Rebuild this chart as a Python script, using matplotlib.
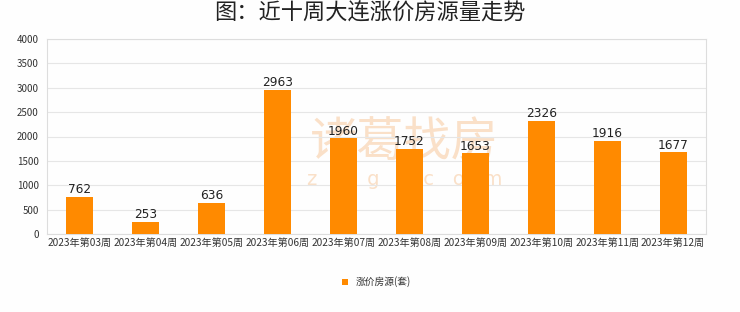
import matplotlib
matplotlib.use('Agg')
import matplotlib.pyplot as plt
import numpy as np

plt.rcParams['font.family'] = ['Noto Sans CJK SC', 'DejaVu Sans']

weeks = ['2023年第03周', '2023年第04周', '2023年第05周', '2023年第06周', '2023年第07周',
         '2023年第08周', '2023年第09周', '2023年第10周', '2023年第11周', '2023年第12周']
counts = [762, 253, 636, 2963, 1960, 1752, 1653, 2326, 1916, 1677]
yticks = [0, 500, 1000, 1500, 2000, 2500, 3000, 3500, 4000]

BAR_COLOR = '#ff8a00'
GRID_COLOR = '#e6e6e6'
WM_COLOR = '#fae0c8'

fig = plt.figure(figsize=(7.4, 3.12), dpi=100)
fig.patch.set_facecolor('#fefefe')
ax = fig.add_axes([47 / 740, 1 - 234 / 312, 659 / 740, 195 / 312])
ax.set_facecolor('#fefefe')

# watermark, behind the bars
ax.text(0.543, 0.47, '诸葛找房', transform=ax.transAxes, fontsize=34, color=WM_COLOR,
        ha='center', va='center', zorder=1, fontweight='light')
ax.text(0.543, 0.28, 'z   u   g   .   c   o   m', transform=ax.transAxes, fontsize=14,
        color=WM_COLOR, ha='center', va='center', zorder=1, family='DejaVu Sans')

x = np.arange(len(weeks))
ax.bar(x, counts, width=0.41, color=BAR_COLOR, zorder=3, label='涨价房源(套)')
for xi, v in zip(x, counts):
    ax.text(xi, v + 15, str(v), ha='center', va='bottom', fontsize=8.7,
            color='#222222', family='DejaVu Sans', zorder=4)

ax.set_xlim(-0.5, len(weeks) - 0.5)
ax.set_ylim(0, 4000)
ax.set_yticks(yticks)
ax.set_xticks(x)
ax.set_xticklabels(weeks, fontsize=7.3, color='#333333')
ax.tick_params(axis='y', labelsize=7, colors='#333333', length=0, pad=6)
ax.tick_params(axis='x', length=0, pad=3)
ax.grid(axis='y', color=GRID_COLOR, linewidth=0.8, zorder=0)
for s in ax.spines.values():
    s.set_color('#dddddd')
    s.set_linewidth(0.8)

fig.suptitle('图：近十周大连涨价房源量走势', x=0.5, y=0.995, fontsize=16,
             color='#222222', va='top')

ax.legend(loc='center', bbox_to_anchor=(0.5, 1 - (282 - 39) / 195), frameon=False,
          fontsize=7, handlelength=0.7, handleheight=0.7, handletextpad=0.8,
          labelcolor='#333333')

fig.savefig('out.png', dpi=100, facecolor=fig.get_facecolor())
